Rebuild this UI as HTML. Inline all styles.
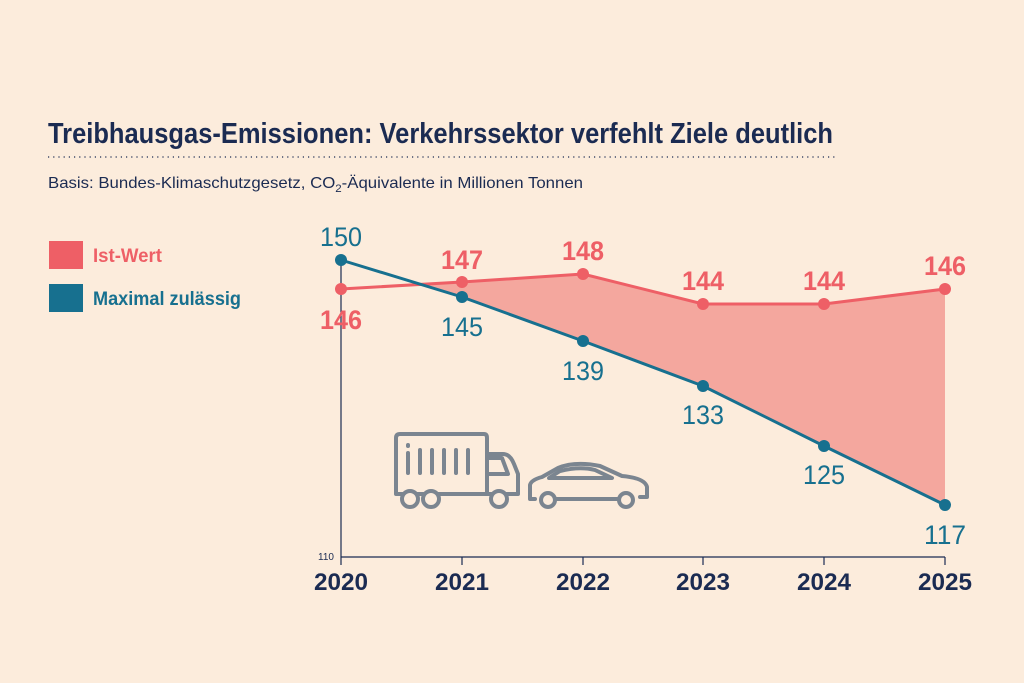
<!DOCTYPE html>
<html><head><meta charset="utf-8"><style>
body{margin:0;background:#fcecdc;}
svg{display:block}
.n{font-family:"Liberation Sans Narrow","Liberation Sans",sans-serif}
</style></head><body>
<svg width="1024" height="683" viewBox="0 0 1024 683" xmlns="http://www.w3.org/2000/svg">
<rect width="1024" height="683" fill="#fcecdc"/>
<text x="48" y="143" class="n" font-size="29" font-weight="bold" fill="#1b2b52" textLength="785" lengthAdjust="spacingAndGlyphs">Treibhausgas-Emissionen: Verkehrssektor verfehlt Ziele deutlich</text>
<line x1="48" y1="157" x2="836" y2="157" stroke="#1b2b52" stroke-width="1.2" stroke-dasharray="1.2 4"/>
<text x="48" y="188" class="n" font-size="16" fill="#1b2b52" textLength="535" lengthAdjust="spacingAndGlyphs">Basis: Bundes-Klimaschutzgesetz, CO<tspan font-size="11" dy="4">2</tspan><tspan dy="-4">-Äquivalente in Millionen Tonnen</tspan></text>
<rect x="49" y="241" width="34" height="28" fill="#ee5f66"/>
<text x="93" y="262" class="n" font-size="19" font-weight="bold" fill="#ee5f66" textLength="69" lengthAdjust="spacingAndGlyphs">Ist-Wert</text>
<rect x="49" y="284" width="34" height="28" fill="#17708f"/>
<text x="93" y="305" class="n" font-size="19" font-weight="bold" fill="#17708f" textLength="148" lengthAdjust="spacingAndGlyphs">Maximal zulässig</text>
<polygon points="421,284.4 462,282 583,274 703,304 824,304 945,289 945,505 824,446 703,386 583,341 462,297" fill="#f4a79e"/>
<g stroke="#1b2b52" stroke-width="1.2">
<line x1="341" y1="260" x2="341" y2="565"/>
<line x1="341" y1="557" x2="945" y2="557"/>
<line x1="462" y1="557" x2="462" y2="565"/><line x1="583" y1="557" x2="583" y2="565"/>
<line x1="703" y1="557" x2="703" y2="565"/><line x1="824" y1="557" x2="824" y2="565"/>
<line x1="945" y1="557" x2="945" y2="565"/>
</g>
<text x="318" y="560" class="n" font-size="10" fill="#1b2b52">110</text>
<g class="n" font-size="24" font-weight="bold" fill="#1b2b52" text-anchor="middle">
<text x="341" y="590" textLength="54" lengthAdjust="spacingAndGlyphs">2020</text><text x="462" y="590" textLength="54" lengthAdjust="spacingAndGlyphs">2021</text><text x="583" y="590" textLength="54" lengthAdjust="spacingAndGlyphs">2022</text><text x="703" y="590" textLength="54" lengthAdjust="spacingAndGlyphs">2023</text><text x="824" y="590" textLength="54" lengthAdjust="spacingAndGlyphs">2024</text><text x="945" y="590" textLength="54" lengthAdjust="spacingAndGlyphs">2025</text>
</g>
<polyline points="341,289 462,282 583,274 703,304 824,304 945,289" fill="none" stroke="#ee5f66" stroke-width="3"/>
<polyline points="341,260 462,297 583,341 703,386 824,446 945,505" fill="none" stroke="#17708f" stroke-width="3"/>
<g fill="#ee5f66"><circle cx="341" cy="289" r="6"/><circle cx="462" cy="282" r="6"/><circle cx="583" cy="274" r="6"/><circle cx="703" cy="304" r="6"/><circle cx="824" cy="304" r="6"/><circle cx="945" cy="289" r="6"/></g>
<g fill="#17708f"><circle cx="341" cy="260" r="6"/><circle cx="462" cy="297" r="6"/><circle cx="583" cy="341" r="6"/><circle cx="703" cy="386" r="6"/><circle cx="824" cy="446" r="6"/><circle cx="945" cy="505" r="6"/></g>
<g class="n" font-size="27" font-weight="bold" fill="#ee5f66" text-anchor="middle">
<text x="341" y="329" textLength="42" lengthAdjust="spacingAndGlyphs">146</text><text x="462" y="269" textLength="42" lengthAdjust="spacingAndGlyphs">147</text><text x="583" y="260" textLength="42" lengthAdjust="spacingAndGlyphs">148</text><text x="703" y="290" textLength="42" lengthAdjust="spacingAndGlyphs">144</text><text x="824" y="290" textLength="42" lengthAdjust="spacingAndGlyphs">144</text><text x="945" y="275" textLength="42" lengthAdjust="spacingAndGlyphs">146</text>
</g>
<g class="n" font-size="27" fill="#17708f" text-anchor="middle">
<text x="341" y="246" textLength="42" lengthAdjust="spacingAndGlyphs">150</text><text x="462" y="336" textLength="42" lengthAdjust="spacingAndGlyphs">145</text><text x="583" y="380" textLength="42" lengthAdjust="spacingAndGlyphs">139</text><text x="703" y="424" textLength="42" lengthAdjust="spacingAndGlyphs">133</text><text x="824" y="484" textLength="42" lengthAdjust="spacingAndGlyphs">125</text><text x="945" y="544" textLength="42" lengthAdjust="spacingAndGlyphs">117</text>
</g>
<g fill="none" stroke="#7b8590" stroke-width="4" stroke-linejoin="round" stroke-linecap="round">
<path d="M396,494 V438 Q396,434 400,434 H484 Q487,434 487,438 V494 Z"/>
<path d="M487,454 H503 Q510,454 514,464 L518,474 V494 H487"/>
<path d="M487,458 H502 L508,474 H487"/>
<line x1="408" y1="453" x2="408" y2="473"/><line x1="408" y1="445" x2="408" y2="446"/>
<line x1="420" y1="450" x2="420" y2="473"/><line x1="432" y1="450" x2="432" y2="473"/>
<line x1="444" y1="450" x2="444" y2="473"/><line x1="456" y1="450" x2="456" y2="473"/><line x1="468" y1="450" x2="468" y2="473"/>
<circle cx="410" cy="499" r="8" fill="#fcecdc"/><circle cx="431" cy="499" r="8" fill="#fcecdc"/><circle cx="499" cy="499" r="8" fill="#fcecdc"/>
<path d="M535,499 H530 V485 Q531,480 542,477 L558,468 Q575,461 600,466 L622,476 Q645,478 647,487 V497 H640"/>
<path d="M549,478 L560,471 Q580,466 595,470 L612,478 Z"/>
<line x1="555" y1="499" x2="620" y2="499"/>
<circle cx="548" cy="500" r="7" fill="#fcecdc"/><circle cx="626" cy="500" r="7" fill="#fcecdc"/>
</g>
</svg>
</body></html>
